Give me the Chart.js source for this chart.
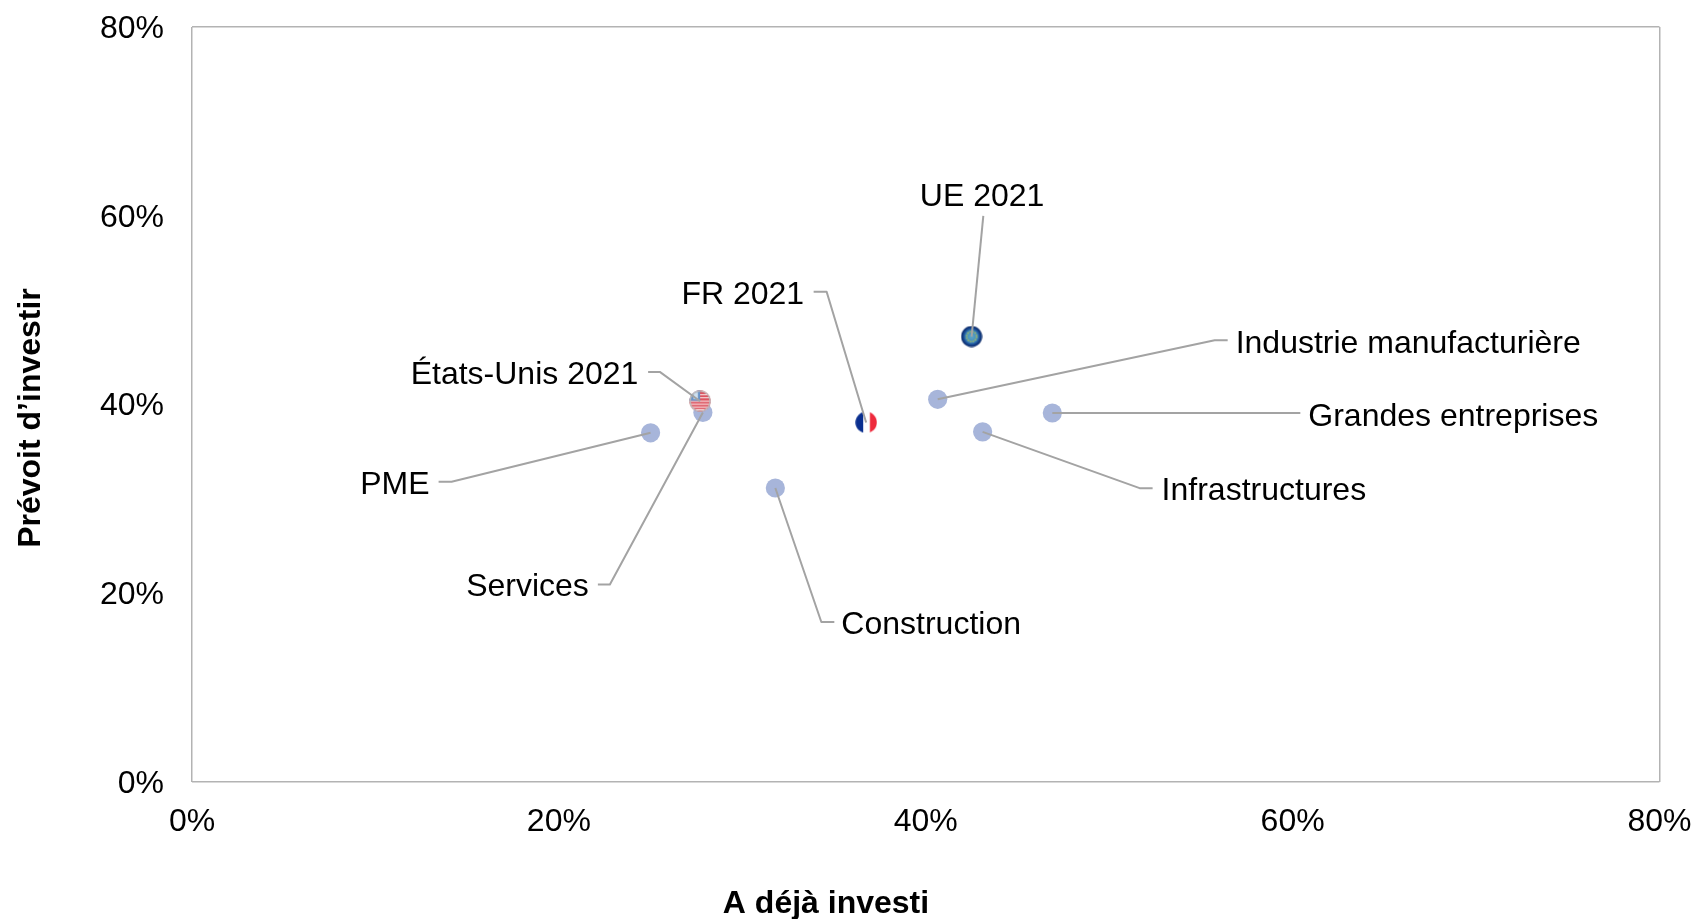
<!DOCTYPE html>
<html lang="fr"><head><meta charset="utf-8">
<style>html,body{margin:0;padding:0;background:#fff;overflow:hidden}#w{width:1694px;height:919px;position:relative}</style>
<script src="https://cdn.jsdelivr.net/npm/chart.js@4/dist/chart.umd.min.js"></script>
</head><body><div id="w"><canvas id="c" width="1694" height="919"></canvas></div>
<script>
const xAxisTitle = "A déjà investi";
const yAxisTitle = "Prévoit d’investir";
const tickValues = [0, 20, 40, 60, 80];

const sectorNames = ["PME", "Services", "Construction", "Industrie manufacturière", "Infrastructures", "Grandes entreprises"];
const sectorInvested = [25.0, 27.85, 31.8, 40.65, 43.1, 46.9];
const sectorPlanned = [37.0, 39.15, 31.15, 40.55, 37.1, 39.1];

const countryNames = ["États-Unis 2021", "FR 2021", "UE 2021"];
const countryInvested = [27.7, 36.75, 42.5];
const countryPlanned = [40.35, 38.1, 47.2];

// Label placement relative to each marker, in pixels: text anchor, then leader polyline
const placement = {
  "PME": {tx:-221, ty:52, align:"right", line:[[-212,49],[-199,49]]},
  "Services": {tx:-114, ty:175, align:"right", line:[[-105,172],[-93,172]]},
  "Construction": {tx:66, ty:137.5, align:"left", line:[[59,134],[46,134]]},
  "Industrie manufacturière": {tx:298, ty:-55, align:"left", line:[[290,-59],[277,-59]]},
  "Infrastructures": {tx:179, ty:59.7, align:"left", line:[[170,56.3],[157,56.3]]},
  "Grandes entreprises": {tx:256, ty:3.7, align:"left", line:[[248,0]]},
  "États-Unis 2021": {tx:-61.8, ty:-26.3, align:"right", line:[[-52,-29.3],[-40.3,-29.3]]},
  "FR 2021": {tx:-62, ty:-127.5, align:"right", line:[[-52.5,-130.6],[-39.5,-130.6]]},
  "UE 2021": {tx:10.5, ty:-139, align:"center", line:[[11.7,-120.7]]}
};
const axisTitlePlacement = {x:[826, 904], y:[31, 418]};
const FONT = '"Liberation Sans", Arial, sans-serif';

function marker(size, paint) {
  const cv = document.createElement("canvas");
  cv.width = cv.height = size;
  const g = cv.getContext("2d"), r = size / 2;
  g.save(); g.beginPath(); g.arc(r, r, r - 0.3, 0, Math.PI * 2); g.clip();
  paint(g, size, r); g.restore();
  return cv;
}
const usFlag = marker(22, (g, s, r) => {
  g.fillStyle = "#dc5561"; g.fillRect(0, 0, s, s);
  g.fillStyle = "#fbe9ea";
  [4, 7].forEach(y => g.fillRect(s * 0.5, y, s, 1));
  [10.5, 13.5, 16.5, 19].forEach(y => g.fillRect(0, y, s, 1.1));
  g.fillStyle = "#6a93c8"; g.fillRect(0, 0, s * 0.5, s * 0.48);
  g.fillStyle = "#cfe0ef"; g.fillRect(s * 0.2, s * 0.1, s * 0.2, s * 0.3);
  g.strokeStyle = "rgba(185,185,185,.95)"; g.lineWidth = 1.6;
  g.beginPath(); g.arc(r, r, r - 0.8, 0, Math.PI * 2); g.stroke();
});
const frFlag = marker(22, (g, s) => {
  g.fillStyle = "#0a2f8f"; g.fillRect(0, 0, s * 0.37, s);
  g.fillStyle = "#ffffff"; g.fillRect(s * 0.37, 0, s * 0.3, s);
  g.fillStyle = "#ee2a3c"; g.fillRect(s * 0.67, 0, s * 0.33, s);
});
const euFlag = marker(22, (g, s, r) => {
  const grad = g.createRadialGradient(r, r, 1, r, r, r);
  grad.addColorStop(0, "#5aa3c4"); grad.addColorStop(0.5, "#3f87bd");
  grad.addColorStop(0.72, "#15458f"); grad.addColorStop(0.9, "#0f3070"); grad.addColorStop(1, "#9aa5ba");
  g.fillStyle = grad; g.fillRect(0, 0, s, s);
  g.strokeStyle = "rgba(170,190,90,.9)"; g.lineWidth = 1.6; g.setLineDash([1.6, 1]);
  g.beginPath(); g.arc(r, r, 5, 0, Math.PI * 2); g.stroke();
});
const countryMarkers = [usFlag, frFlag, euFlag];

const leaderPlugin = {
  id: "leaders",
  afterDatasetsDraw(chart) {
    const {ctx, scales} = chart;
    const items = [];
    chart.data.datasets.forEach(ds => ds.data.forEach(p => items.push(p)));
    ctx.save();
    ctx.strokeStyle = "#a3a3a3"; ctx.lineWidth = 2; ctx.lineJoin = "round";
    items.forEach(p => {
      const px = scales.x.getPixelForValue(p.x), py = scales.y.getPixelForValue(p.y);
      const pl = placement[p.name];
      ctx.beginPath();
      pl.line.forEach((q, i) => { const X = px + q[0], Y = py + q[1]; i ? ctx.lineTo(X, Y) : ctx.moveTo(X, Y); });
      ctx.lineTo(px, py); ctx.stroke();
    });
    ctx.fillStyle = "#000"; ctx.font = "32px " + FONT; ctx.textBaseline = "middle";
    items.forEach(p => {
      const px = scales.x.getPixelForValue(p.x), py = scales.y.getPixelForValue(p.y);
      const pl = placement[p.name];
      ctx.textAlign = pl.align;
      ctx.fillText(p.name, px + pl.tx, py + pl.ty);
    });
    ctx.font = "bold 32px " + FONT; ctx.textAlign = "center";
    ctx.fillText(xAxisTitle, axisTitlePlacement.x[0], axisTitlePlacement.x[1]);
    ctx.translate(axisTitlePlacement.y[0], axisTitlePlacement.y[1]);
    ctx.rotate(-Math.PI / 2);
    ctx.fillText(yAxisTitle, 0, 0);
    ctx.restore();
  }
};

const edgeGrid = {
  drawTicks: false,
  lineWidth: 1.5,
  color: c => (c.tick && (c.tick.value === tickValues[0] || c.tick.value === tickValues[tickValues.length - 1])) ? "#b3b3b3" : "rgba(0,0,0,0)"
};
const tickStyle = {
  color: "#000", font: {family: FONT, size: 32}, padding: 0,
  callback: v => v + "%"
};
const forceTicks = s => { s.ticks = tickValues.map(v => ({value: v})); };
const clearOverhang = s => { s.paddingTop = s.paddingBottom = s.paddingLeft = s.paddingRight = 0; };

new Chart(document.getElementById("c"), {
  type: "scatter",
  data: {datasets: [
    {label: "Pays", data: countryNames.map((n, i) => ({name: n, x: countryInvested[i], y: countryPlanned[i]})),
     pointStyle: countryMarkers, pointRadius: 11, pointHoverRadius: 11},
    {label: "Secteurs", data: sectorNames.map((n, i) => ({name: n, x: sectorInvested[i], y: sectorPlanned[i]})),
     pointStyle: "circle", pointRadius: 9.6, pointHoverRadius: 9.6, backgroundColor: "#a7b5da", borderWidth: 0}
  ]},
  options: {
    responsive: false, animation: false, events: [],
    layout: {padding: {left: 0, top: 27, right: 34.5, bottom: 0}},
    plugins: {legend: {display: false}, tooltip: {enabled: false}, title: {display: false}},
    scales: {
      x: {type: "linear", min: 0, max: 80, afterBuildTicks: forceTicks, afterFit: s => { s.height = 137; clearOverhang(s); },
          grid: edgeGrid, border: {display: false},
          ticks: {...tickStyle, maxRotation: 0, padding: 21}},
      y: {type: "linear", min: 0, max: 80, afterBuildTicks: forceTicks, afterFit: s => { s.width = 192; clearOverhang(s); },
          grid: edgeGrid, border: {display: false},
          ticks: {...tickStyle, padding: 28, labelOffset: 2}}
    }
  },
  plugins: [leaderPlugin]
});
</script></body></html>
